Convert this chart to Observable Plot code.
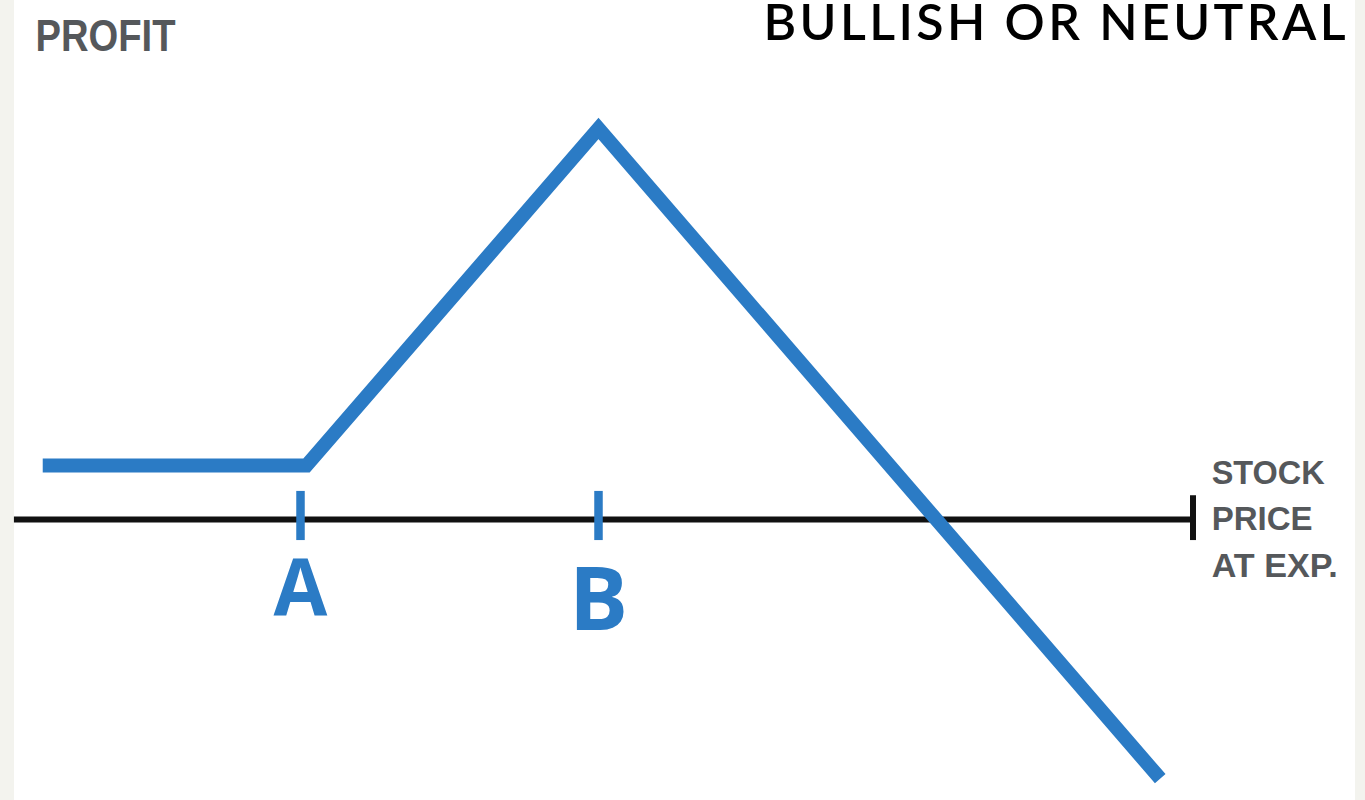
<!DOCTYPE html>
<html>
<head>
<meta charset="utf-8">
<script src="https://cdn.jsdelivr.net/npm/d3@7"></script>
<script src="https://cdn.jsdelivr.net/npm/@observablehq/plot@0.6"></script>
<style>
  html, body { margin: 0; padding: 0; }
  body {
    width: 1365px; height: 800px; overflow: hidden;
    background: linear-gradient(to right, #f3f3ee 0px, #f3f3ee 14px, #ffffff 14px, #ffffff 1355px, #f3f3ee 1355px);
  }
  #chart svg { display: block; background: transparent; }
</style>
</head>
<body>
<div id="chart"></div>
<script>
// Payoff diagram — values in abstract price / profit units
const payoffPrice  = [2.7, 20.4, 40, 77.7];
const payoffProfit = [1.0, 1.0, 7.24, -4.8];

// strike ticks
const strikeLabels = ["A", "B"];
const strikePrices = [20, 40];

// axis (stock price at expiration)
const axisStart = 0.8;
const axisEnd = 79.9;

const titleText = "BULLISH OR NEUTRAL";
const yLabelText = "PROFIT";
const xLabelLines = ["STOCK", "PRICE", "AT EXP."];

const payoff = payoffPrice.map((p, i) => ({price: p, profit: payoffProfit[i]}));
const strikes = strikeLabels.map((l, i) => ({label: l, price: strikePrices[i]}));

const blue = "#2b7bc5";
const labelFont = "'Open Sans', 'DejaVu Sans', sans-serif";

const chart = Plot.plot({
  width: 1365,
  height: 800,
  margin: 0,
  x: {type: "linear", domain: [20, 40], range: [300, 598], axis: null},
  y: {type: "linear", domain: [0, 1], range: [519, 465], axis: null},
  style: {background: "transparent", overflow: "visible"},
  marks: [
    // price axis
    Plot.ruleY([0], {x1: axisStart, x2: axisEnd, stroke: "#111", strokeWidth: 6}),
    Plot.ruleX([axisEnd], {y1: 0.44, y2: -0.39, stroke: "#111", strokeWidth: 6}),
    // strike ticks
    Plot.ruleX(strikes, {x: "price", y1: 0.52, y2: -0.39, stroke: blue, strokeWidth: 8.5}),
    // strike labels
    Plot.text(strikes.filter((d) => d.label === "A"), {x: "price", y: () => -1.30, text: "label", fill: blue,
      fontSize: 78, fontWeight: "bold", fontFamily: labelFont, lineAnchor: "middle"}),
    Plot.text(strikes.filter((d) => d.label === "B"), {x: "price", y: () => -1.52, text: "label", fill: blue,
      fontSize: 88, fontWeight: "bold", fontFamily: labelFont, lineAnchor: "middle"}),
    // payoff line
    Plot.line(payoff, {x: "price", y: "profit", stroke: blue, strokeWidth: 14,
      strokeLinejoin: "miter", strokeLinecap: "butt", strokeMiterlimit: 10}),
    // x label
    Plot.text([xLabelLines.join("\n")], {x: axisEnd + 1.25, y: 0.08, text: (d) => d, textAnchor: "start",
      lineAnchor: "middle", lineHeight: 1.37, fontSize: 34, fill: "#55585b",
      fontFamily: "'Liberation Sans', sans-serif", fontWeight: "bold"}),
    // y label
    Plot.text([yLabelText], {frameAnchor: "top-left", dx: 35, dy: 19, text: (d) => d,
      textAnchor: "start", lineAnchor: "top", fontSize: 45, fill: "#55585b",
      fontFamily: "'Liberation Sans', sans-serif", fontWeight: "bold"}),
    // title
    Plot.text([titleText], {frameAnchor: "top-right", dx: -20, dy: 39, text: (d) => d,
      textAnchor: "end", lineAnchor: "bottom", fontSize: 50, fill: "#000",
      fontFamily: "'Lato', 'Open Sans', sans-serif", fontWeight: 600})
  ]
});

// condense / widen label texts to the reference's widths
const svg = d3.select(chart);
const fit = (sel, w, mode) => sel.attr("textLength", w).attr("lengthAdjust", mode || "spacingAndGlyphs");
svg.selectAll("text").each(function () {
  const el = d3.select(this);
  if (this.textContent === yLabelText) fit(el, 140);
  if (this.textContent === titleText) fit(el, 582, "spacing");
});
svg.selectAll("tspan").each(function () {
  const t = this.textContent;
  const w = t === xLabelLines[0] ? 113 : t === xLabelLines[1] ? 101 : t === xLabelLines[2] ? 126 : null;
  if (w) fit(d3.select(this), w);
});
document.getElementById("chart").appendChild(chart);
</script>
</body>
</html>
